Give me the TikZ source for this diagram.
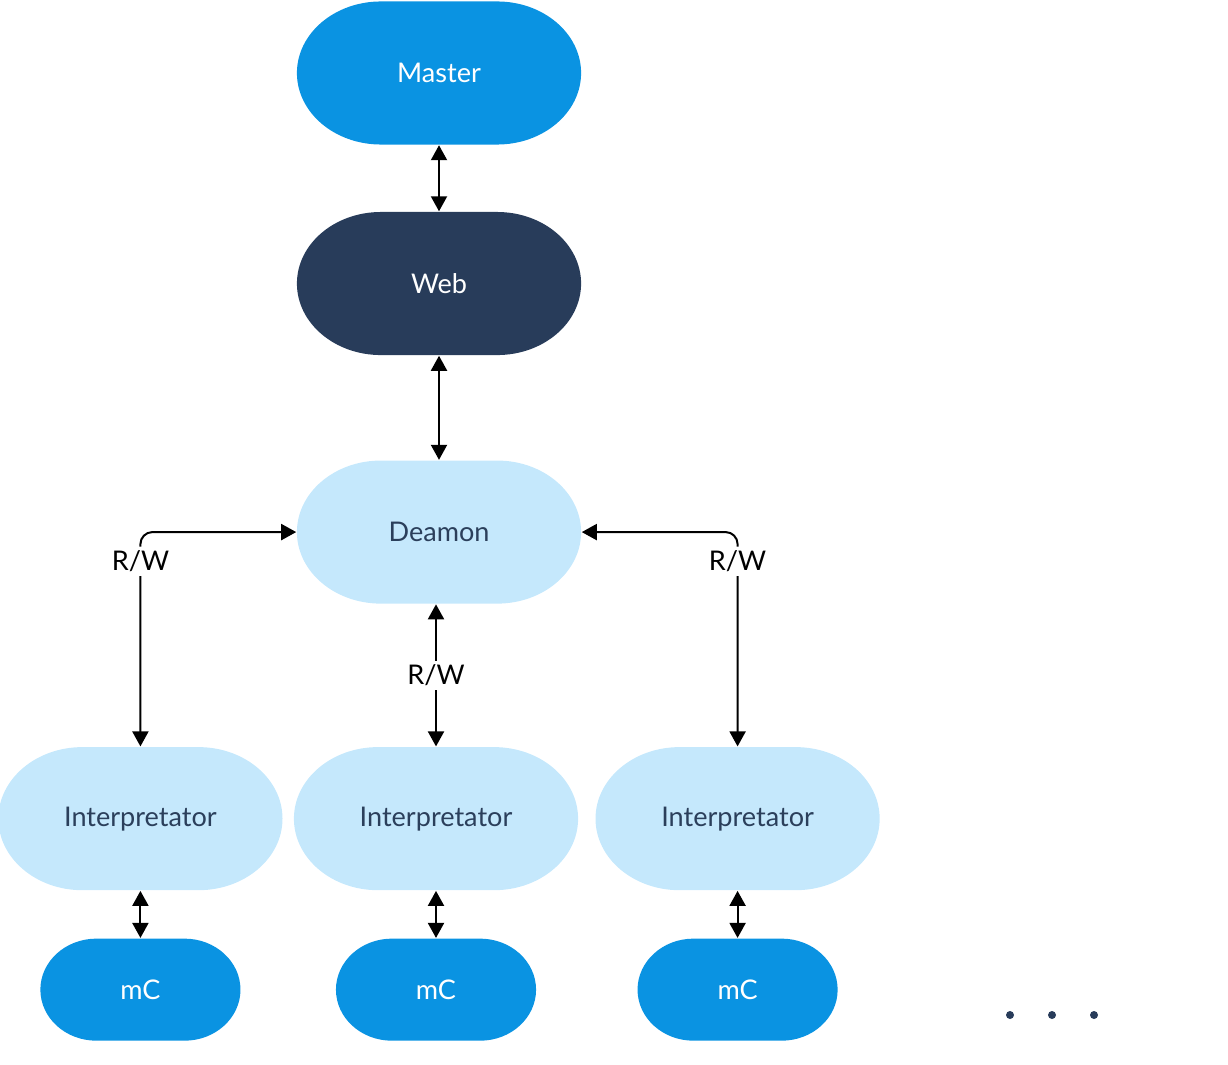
\documentclass[tikz,border=0pt]{standalone}
\usepackage{fontspec}
\setmainfont{Lato}
\usepackage{tikz}
\usetikzlibrary{positioning}
\usetikzlibrary{arrows.meta}
\definecolor{mainblue}{HTML}{0A93E2}
\definecolor{navy}{HTML}{283C5A}
\definecolor{paleblue}{HTML}{C5E8FC}
\definecolor{textnavy}{HTML}{2B3F5B}
\tikzset{
    every picture/.append style={
        >={Triangle[length=0.15cm,width=0.16cm]}
    }
}
\tikzset{
    % pill with elliptic ends: colour, x radius, y radius
    pill/.style n args={3}{path picture={
        \fill[#1] ([xshift=#2]path picture bounding box.north west)
            -- ([xshift=-#2]path picture bounding box.north east)
            arc[start angle=90, end angle=-90, x radius=#2, y radius=#3]
            -- ([xshift=#2]path picture bounding box.south west)
            arc[start angle=270, end angle=90, x radius=#2, y radius=#3]
            -- cycle;}},
    blob/.style={inner sep=0pt, minimum width=2.84cm, minimum height=1.43cm,
        font=\fontsize{7.7}{9}\selectfont, pill={#1}{0.84cm}{0.715cm}},
    master/.style={blob=mainblue, text=white},
    web/.style={blob=navy, text=white},
    light/.style={blob=paleblue, text=textnavy},
    chip/.style={inner sep=0pt, minimum width=2cm, minimum height=1.02cm,
        font=\fontsize{7.7}{9}\selectfont, text=white, pill={mainblue}{0.56cm}{0.51cm}},
    rw/.style={fill=white, inner sep=0.04cm, font=\fontsize{7.7}{9}\selectfont},
    link/.style={<->, line width=0.02cm},
}
\begin{document}
\begin{tikzpicture}[x=0.01cm, y=-0.01cm]
		\useasboundingbox (0,0) rectangle (1228,1064);
		\node[master] (master) at (439,73) {Master};
		\node[web, below=0.66cm of master] (web) {Web};
		\node[light, below=1.04cm of web] (deamon) {Deamon};
		\node[light, below=1.42cm of deamon, xshift=-0.03cm] (int2) {Interpretator};
		\node[light, left=0.1cm of int2] (int1) {Interpretator};
		\node[light, right=0.16cm of int2] (int3) {Interpretator};
		\node[chip, below=0.47cm of int1] (mc1) {mC};
		\node[chip, below=0.47cm of int2] (mc2) {mC};
		\node[chip, below=0.47cm of int3] (mc3) {mC};
		
		\path [link] (master) edge (web);
		\path [link] (web) edge (deamon);
		\draw [link] (deamon.south -| int2.north) -- node[rw] {R/W} (int2.north);
		\draw [link, rounded corners=0.12cm] (deamon.west) -| node[rw, pos=0.568] {R/W} (int1.north);
		\draw [link, rounded corners=0.12cm] (deamon.east) -| node[rw, pos=0.568] {R/W} (int3.north);
		\path [link] (int1) edge (mc1);
		\path [link] (int2) edge (mc2);
		\path [link] (int3) edge (mc3);
		
		% more of the same
		\foreach \x in {1010,1052,1094}
			\fill[navy] (\x,1015) circle (4);
		\end{tikzpicture}
\end{document}
